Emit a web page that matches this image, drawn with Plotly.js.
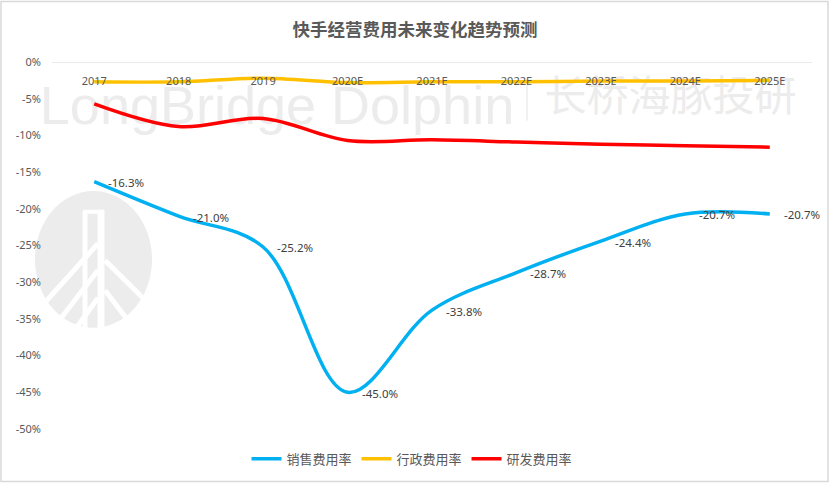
<!DOCTYPE html>
<html>
<head>
<meta charset="utf-8">
<script src="https://cdn.plot.ly/plotly-3.0.1.min.js"></script>
<style>html,body{margin:0;padding:0;background:#fff;}#chart{width:830px;height:486px;}</style>
</head>
<body>
<div id="chart"></div>
<script>
const categories = ['2017','2018','2019','2020E','2021E','2022E','2023E','2024E','2025E'];
const salesRate = [-16.3, -21.0, -25.2, -45.0, -33.8, -28.7, -24.4, -20.7, -20.7];
const adminRate = [-2.7, -2.7, -2.2, -2.8, -2.7, -2.7, -2.6, -2.6, -2.5];
const rdRate = [-5.7, -8.8, -7.7, -10.7, -10.6, -10.9, -11.2, -11.4, -11.6];
const yTickVals = [0, -5, -10, -15, -20, -25, -30, -35, -40, -45, -50];
const yTickText = ['0%', '-5%', '-10%', '-15%', '-20%', '-25%', '-30%', '-35%', '-40%', '-45%', '-50%'];
const seriesNames = ['销售费用率', '行政费用率', '研发费用率'];

const fontFam = 'Noto Sans CJK SC, Noto Sans, sans-serif';

const traces = [
  {
    x: categories, y: salesRate, name: seriesNames[0], type: 'scatter', mode: 'lines',
    line: {color: '#00b0f0', width: 3.5, shape: 'spline', smoothing: 1}
  },
  {
    x: categories, y: adminRate, name: seriesNames[1], type: 'scatter', mode: 'lines',
    line: {color: '#ffc000', width: 3.5, shape: 'spline', smoothing: 1}
  },
  {
    x: categories, y: rdRate, name: seriesNames[2], type: 'scatter', mode: 'lines',
    line: {color: '#ff0000', width: 3.5, shape: 'spline', smoothing: 1}
  }
];

// data labels for the sales series (x given as category index)
const annotations = categories.map((c, i) => ({
  x: i, y: salesRate[i], xref: 'x', yref: 'y',
  text: salesRate[i].toFixed(1) + '%', showarrow: false,
  xanchor: 'left', yanchor: 'middle', xshift: 12, yshift: -1,
  font: {family: 'Noto Sans, sans-serif', size: 11.5, color: '#404040'}
}));

// pixel helpers for decorations (plot area 52..812 x, 62..432 y)
const L = 52, R = 812, T = 62, B = 432;
const px = v => (v - L) / (R - L);
const py = v => (B - v) / (B - T);
const wline = (x0, y0, x1, y1, w) => ({type: 'line', xref: 'paper', yref: 'paper', layer: 'below',
  x0: px(x0), y0: py(y0), x1: px(x1), y1: py(y1), line: {color: '#ffffff', width: w}});

const shapes = [
  {type: 'rect', xref: 'paper', yref: 'paper', layer: 'below',
   x0: px(1), x1: px(828), y0: py(1), y1: py(485),
   line: {color: '#d9d9d9', width: 1.5}, fillcolor: 'rgba(0,0,0,0)'},
  // zero line (category axis)
  {type: 'line', xref: 'paper', yref: 'y', layer: 'below', x0: 0, x1: 1, y0: 0, y1: 0,
   line: {color: '#d9d9d9', width: 1}},
  // logo watermark
  {type: 'circle', xref: 'paper', yref: 'paper', layer: 'below',
   x0: px(35), x1: px(152), y0: py(330), y1: py(192),
   line: {width: 0}, fillcolor: '#ececec'},
  wline(85, 213, 85, 336, 5),
  wline(101, 211, 101, 336, 7),
  wline(83, 213, 104, 213, 4),
  wline(98, 245, 40, 310, 5),
  wline(98, 272, 52, 332, 5),
  wline(98, 300, 72, 336, 5),
  wline(105, 262, 148, 305, 5),
  wline(105, 292, 135, 332, 5),
  // text watermark
  {type: 'rect', xref: 'paper', yref: 'paper', layer: 'below',
   x0: px(38), x1: px(516), y0: py(126), y1: py(74),
   line: {width: 0}, fillcolor: 'rgba(0,0,0,0)',
   label: {text: 'LongBridge Dolphin', textposition: 'middle center',
           font: {family: 'Liberation Sans, sans-serif', size: 54, color: '#ececec'}}},
  {type: 'line', xref: 'paper', yref: 'paper', layer: 'below',
   x0: px(527), x1: px(527), y0: py(79), y1: py(121), line: {color: '#ececec', width: 1.5}},
  {type: 'rect', xref: 'paper', yref: 'paper', layer: 'below',
   x0: px(545), x1: px(796), y0: py(126), y1: py(74),
   line: {width: 0}, fillcolor: 'rgba(0,0,0,0)',
   label: {text: '长桥海豚投研', textposition: 'middle center',
           font: {family: 'Noto Sans CJK SC, sans-serif', size: 42, color: '#ececec'}}}
];

const layout = {
  width: 830, height: 486,
  margin: {l: L, r: 830 - R, t: T, b: 486 - B},
  paper_bgcolor: '#ffffff', plot_bgcolor: 'rgba(0,0,0,0)',
  title: {text: '<b>快手经营费用未来变化趋势预测</b>', x: 0.5, xref: 'container', xanchor: 'center',
          y: 1 - 30 / 486, yref: 'container', yanchor: 'middle',
          font: {family: fontFam, size: 17.5, color: '#595959'}},
  xaxis: {type: 'category', range: [-0.5, 8.5], side: 'bottom', anchor: 'free', position: py(73),
          showline: false, showgrid: false, zeroline: false,
          ticks: '', tickfont: {family: 'Noto Sans, sans-serif', size: 11, color: '#595959'},
          fixedrange: true},
  yaxis: {range: [-50, 0], tickvals: yTickVals, ticktext: yTickText, showgrid: false, zeroline: false,
          showline: false, ticks: '', ticklabelstandoff: 10,
          tickfont: {family: 'Noto Sans, sans-serif', size: 11, color: '#595959'}, fixedrange: true},
  legend: {orientation: 'h', x: px(412), xanchor: 'center', y: py(462), yanchor: 'middle',
           font: {family: fontFam, size: 13, color: '#595959'}, itemwidth: 30, bgcolor: 'rgba(0,0,0,0)'},
  annotations: annotations,
  shapes: shapes,
  showlegend: true
};

Plotly.newPlot('chart', traces, layout, {displayModeBar: false, staticPlot: true});
</script>
</body>
</html>
